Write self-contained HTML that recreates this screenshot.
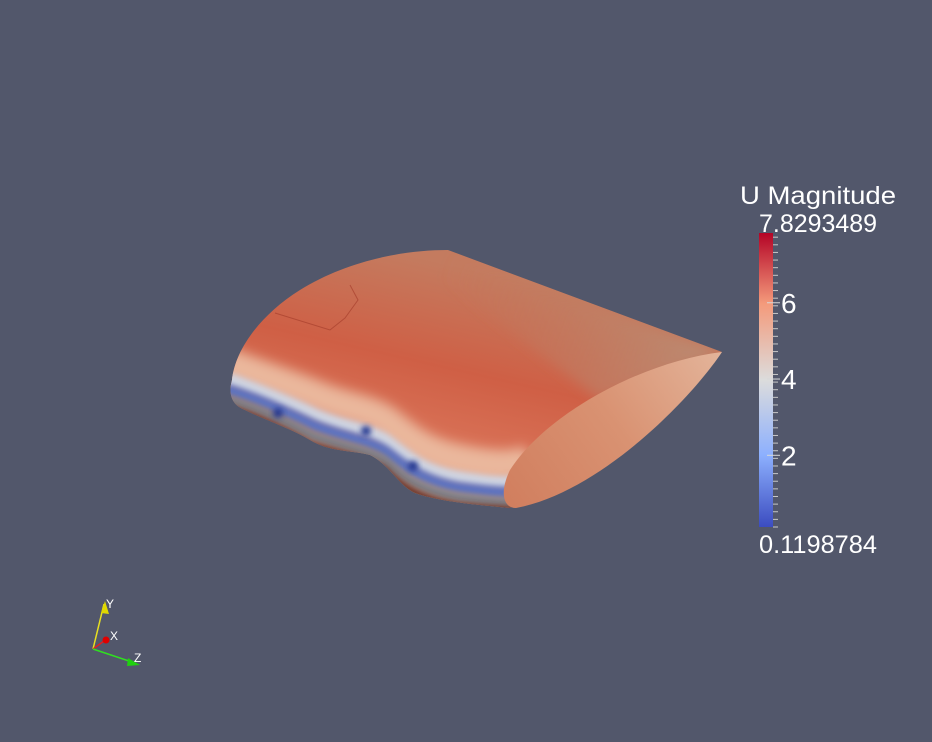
<!DOCTYPE html>
<html><head><meta charset="utf-8"><style>
html,body{margin:0;padding:0;background:#52576b;}
svg{display:block;}
</style></head><body>
<svg width="932" height="742" viewBox="0 0 932 742" font-family="Liberation Sans, DejaVu Sans, sans-serif">
<defs>
 <linearGradient id="bodyG" x1="430" y1="260" x2="380" y2="480" gradientUnits="userSpaceOnUse">
  <stop offset="0" stop-color="#c47b5f"/>
  <stop offset="0.45" stop-color="#cf5f45"/>
  <stop offset="0.75" stop-color="#d87055"/>
  <stop offset="1" stop-color="#e8a283"/>
 </linearGradient>
 <linearGradient id="topG" x1="450" y1="250" x2="720" y2="350" gradientUnits="userSpaceOnUse">
  <stop offset="0" stop-color="#c0775c" stop-opacity="0"/>
  <stop offset="1" stop-color="#b8927a" stop-opacity="0.8"/>
 </linearGradient>
 <linearGradient id="capG" x1="720" y1="350" x2="510" y2="500" gradientUnits="userSpaceOnUse">
  <stop offset="0" stop-color="#e3b49a"/>
  <stop offset="0.5" stop-color="#d99272"/>
  <stop offset="1" stop-color="#d17f5f"/>
 </linearGradient>
 <linearGradient id="cbG" x1="0" y1="1" x2="0" y2="0">
  <stop offset="0" stop-color="#3b4cc0"/>
  <stop offset="0.245" stop-color="#8db0fe"/>
  <stop offset="0.5" stop-color="#dcdcdc"/>
  <stop offset="0.76" stop-color="#f49a7b"/>
  <stop offset="1" stop-color="#b40426"/>
 </linearGradient>
 <clipPath id="bodyClip"><path d="M232,380 C235,350 260,315 300,290 C345,262 400,250 448,250 L722,352 L510,508 C480,505 440,502 415,493 C398,485 390,465 370,455 C350,450 330,452 310,440 C290,428 265,420 245,410 C232,405 228,395 232,380 Z"/></clipPath>
 <filter id="blur6" x="-50%" y="-50%" width="200%" height="200%"><feGaussianBlur stdDeviation="6"/></filter>
 <filter id="blur3" x="-50%" y="-50%" width="200%" height="200%"><feGaussianBlur stdDeviation="3"/></filter>
</defs>

<g>
 <path d="M232,380 C235,350 260,315 300,290 C345,262 400,250 448,250 L722,352 L510,508 C480,505 440,502 415,493 C398,485 390,465 370,455 C350,450 330,452 310,440 C290,428 265,420 245,410 C232,405 228,395 232,380 Z" fill="url(#bodyG)"/>
 <g clip-path="url(#bodyClip)">
  <path d="M448,250 L722,352 L600,400 L430,270 Z" fill="url(#topG)" filter="url(#blur6)"/>
  <path d="M225,362 C260,375 290,385 315,395 C345,408 365,408 385,420 C405,435 420,452 460,460 C490,466 510,468 530,460" fill="none" stroke="#eab79c" stroke-width="30" filter="url(#blur6)"/>
  <path d="M225,378 C260,391 290,403 315,415 C345,428 365,428 385,440 C405,455 420,471 460,478 C490,483 510,485 530,481" fill="none" stroke="#d0d4e0" stroke-width="14" filter="url(#blur3)"/>
  <path d="M225,389 C258,399 290,414 315,426 C345,438 365,439 385,451 C402,464 420,481 460,488 C490,492 510,494 530,492" fill="none" stroke="#5d72c0" stroke-width="12" filter="url(#blur3)"/>
  <path d="M225,399 C258,409 290,424 312,436 C345,448 365,449 385,461 C400,476 420,491 460,498 C490,502 510,504 530,502" fill="none" stroke="#7d8088" stroke-width="10" filter="url(#blur3)"/>
  <path d="M225,407 C258,417 290,433 310,445 C345,456 365,457 385,470 C400,486 420,500 460,506 C490,509 510,510 530,510" fill="none" stroke="#5e2a20" stroke-width="7" filter="url(#blur3)"/>
  <circle cx="278" cy="413" r="5" fill="#22358f" filter="url(#blur3)"/>
  <circle cx="366" cy="431" r="5" fill="#22358f" filter="url(#blur3)"/>
  <circle cx="413" cy="466" r="5" fill="#22358f" filter="url(#blur3)"/>
  <path d="M275,313 L330,330 L345,318 L358,300 L350,285" fill="none" stroke="#a8402e" stroke-width="1" opacity="0.7"/>
 </g>
 <path d="M722,352 C640,362 545,415 510,470 C500,490 502,508 516,508 C600,492 690,400 722,352 Z" fill="url(#capG)"/>
</g>

<g>
 <text x="818" y="204" font-size="25" fill="#fff" text-anchor="middle" textLength="156" lengthAdjust="spacingAndGlyphs">U Magnitude</text>
 <text x="818" y="232" font-size="25" fill="#fff" text-anchor="middle" textLength="118" lengthAdjust="spacingAndGlyphs">7.8293489</text>
 <rect x="759" y="233" width="14" height="294" fill="url(#cbG)"/>
 <g id="ticks"></g>
 <text x="818" y="553" font-size="25" fill="#fff" text-anchor="middle" textLength="118" lengthAdjust="spacingAndGlyphs">0.1198784</text>
</g>

<g>
 <line x1="93" y1="649" x2="104" y2="604" stroke="#e8e020" stroke-width="1.5"/>
 <path d="M101,613 L105,601 L109,614 Z" fill="#e0d800"/>
 <text x="106" y="608" font-size="12" fill="#fff">Y</text>
 <line x1="93" y1="649" x2="104" y2="641" stroke="#e02020" stroke-width="1.5"/>
 <circle cx="106" cy="640" r="3.5" fill="#e00000"/>
 <text x="110" y="640" font-size="12" fill="#fff">X</text>
 <line x1="93" y1="649" x2="135" y2="663" stroke="#30e020" stroke-width="1.5"/>
 <path d="M128,658 L140,665 L127,666 Z" fill="#20d010"/>
 <text x="134" y="662" font-size="12" fill="#fff">Z</text>
</g>

<script>
const tickValues = [2, 4, 6];
const tickLabels = ["2", "4", "6"];
const rangeMin = 0.1198784;
const rangeMax = 7.8293489;
const y = v => 527 - (v - rangeMin) / (rangeMax - rangeMin) * 294;
const g = document.getElementById('ticks');
const NS = 'http://www.w3.org/2000/svg';
for (let i = 0; i < 40; i++) {
  const v = rangeMin + i * 0.2;
  if (v > rangeMax) break;
  const l = document.createElementNS(NS, 'line');
  
  
  l.setAttribute('x1', 773); l.setAttribute('x2', 778);
  l.setAttribute('y1', y(v)); l.setAttribute('y2', y(v));
  l.setAttribute('stroke', '#c8c8c8'); l.setAttribute('stroke-width', '1');
  g.appendChild(l);
}
tickValues.forEach((v, i) => {
  const l = document.createElementNS(NS, 'line');
  
  
  l.setAttribute('x1', 767); l.setAttribute('x2', 780);
  l.setAttribute('y1', y(v)); l.setAttribute('y2', y(v));
  l.setAttribute('stroke', '#d8d8d8'); l.setAttribute('stroke-width', '1');
  g.appendChild(l);
  const t = document.createElementNS(NS, 'text');
  
  
  t.setAttribute('x', 781); t.setAttribute('y', y(v) + 10);
  t.setAttribute('font-size', '28'); t.setAttribute('fill', '#fff');
  t.textContent = tickLabels[i];
  g.appendChild(t);
});
</script>
</svg>
</body></html>
